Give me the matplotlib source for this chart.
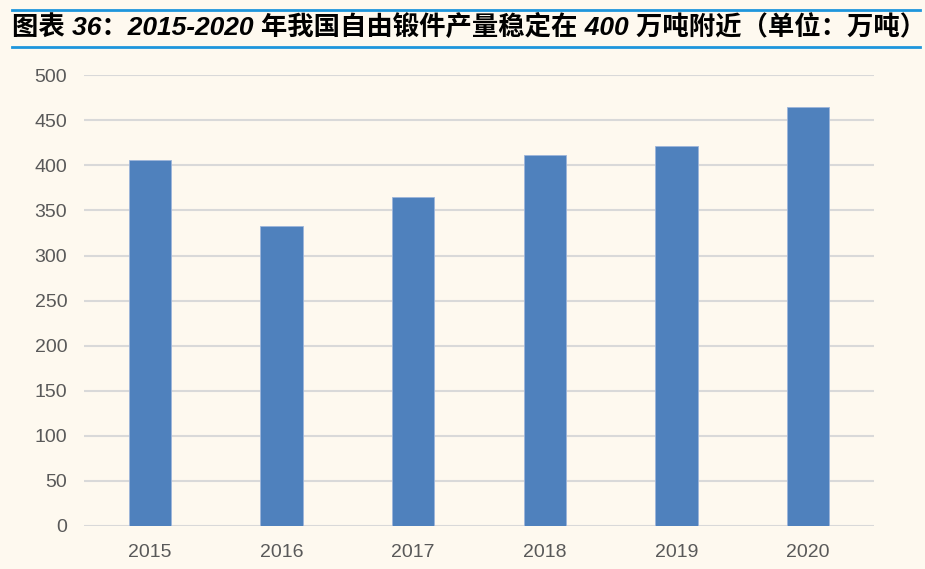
import matplotlib
matplotlib.use('Agg')
import matplotlib.pyplot as plt
from matplotlib.lines import Line2D

# data (万吨)
years = ['2015', '2016', '2017', '2018', '2019', '2020']
output = [406, 333, 365, 412, 422, 465]
yticks = [0, 50, 100, 150, 200, 250, 300, 350, 400, 450, 500]

title = '图表 36：2015-2020 年我国自由锻件产量稳定在 400 万吨附近（单位：万吨）'

bg = '#FEF9EF'
plt.rcParams['font.family'] = ['Liberation Sans', 'Noto Sans CJK SC', 'DejaVu Sans']

fig = plt.figure(figsize=(9.25, 5.69), dpi=100, facecolor=bg)
ax = fig.add_axes([0.0908, 0.0756, 0.854, 0.7922])
ax.set_facecolor(bg)

x = range(len(years))
ax.bar(x, output, width=0.32, color='#4F81BD', edgecolor='#9DB5DA',
       linewidth=0.6, zorder=3)

ax.set_ylim(0, 500)
ax.set_xlim(-0.5, len(years) - 0.5)
ax.set_yticks(yticks)
ax.set_xticks(list(x))
ax.set_xticklabels(years)
ax.yaxis.grid(True, color='#D9D9D9', linewidth=1.5, zorder=0)
ax.set_axisbelow(True)
for s in ax.spines.values():
    s.set_visible(False)
ax.tick_params(axis='both', length=0, labelsize=14, labelcolor='#595959')
ax.tick_params(axis='y', pad=12)
ax.tick_params(axis='x', pad=13)

# title with blue rules above and below
fig.text(0.013, 0.952, title, fontsize=19, fontweight='bold', fontstyle='italic',
         color='black', va='center', ha='left')
for yy in [0.983, 0.917]:
    fig.add_artist(Line2D([0.013, 0.995], [yy, yy], transform=fig.transFigure,
                          color='#1E96DC', linewidth=2))

plt.savefig('out.png', dpi=100, facecolor=bg)
